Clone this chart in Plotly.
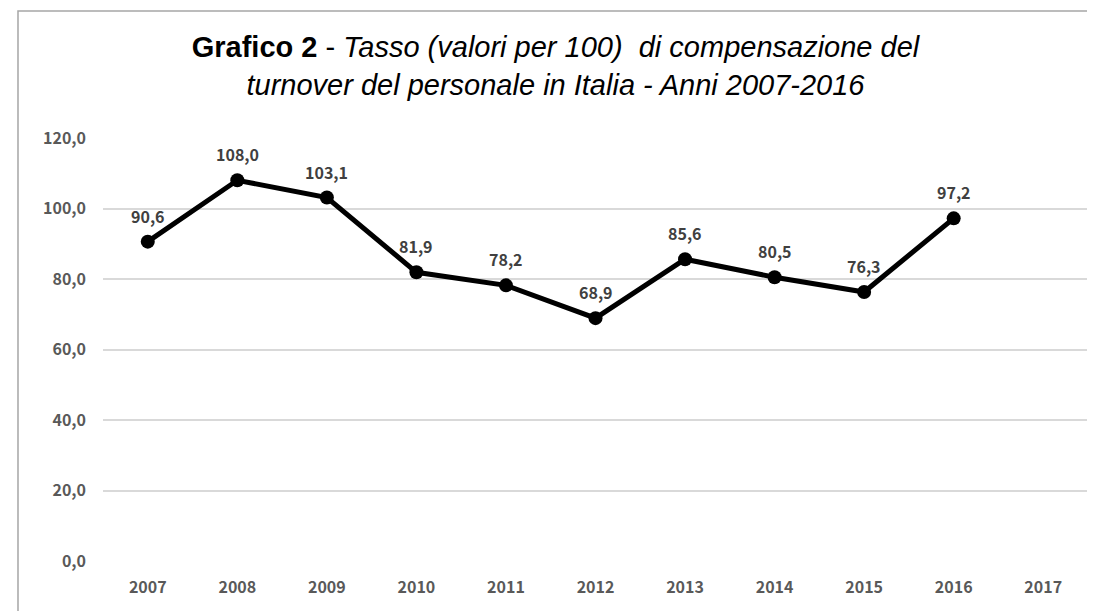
import plotly.graph_objects as go

years = ["2007", "2008", "2009", "2010", "2011", "2012", "2013", "2014", "2015", "2016", "2017"]
values = [90.6, 108.0, 103.1, 81.9, 78.2, 68.9, 85.6, 80.5, 76.3, 97.2, None]
y_ticks = [0, 20, 40, 60, 80, 100, 120]
y_tick_labels = ["0,0", "20,0", "40,0", "60,0", "80,0", "100,0", "120,0"]

xpos = list(range(len(years)))
FONT = "Noto Sans CJK JP, Noto Sans, sans-serif"

fig = go.Figure()
fig.add_trace(go.Scatter(
    x=xpos, y=values, mode="lines+markers",
    line=dict(color="black", width=5),
    marker=dict(color="black", size=14),
    hoverinfo="y", showlegend=False,
))

for x, v in zip(xpos, values):
    if v is None:
        continue
    fig.add_annotation(
        x=x, y=v, text=f"{v:.1f}".replace(".", ","),
        showarrow=False, yshift=26,
        font=dict(family=FONT, size=16, color="#404040", weight="bold"),
    )

fig.update_layout(
    width=1095, height=611,
    paper_bgcolor="white", plot_bgcolor="white",
    margin=dict(l=95, r=15, t=129.5, b=57.5),
    title=dict(
        text="<b>Grafico 2</b> - <i>Tasso (valori per 100)  di compensazione del</i><br><i>turnover del personale in Italia - Anni 2007-2016</i>",
        font=dict(family="Liberation Sans, Arial, sans-serif", size=29, color="black"),
        x=0.5, xanchor="center", xref="container",
        y=1 - 49 / 611, yanchor="top", yref="container",
    ),
    xaxis=dict(
        range=[-0.5, len(years) - 0.5],
        tickvals=xpos, ticktext=years,
        showgrid=False, zeroline=False, showline=False, ticks="",
        tickfont=dict(family=FONT, size=16, color="#595959", weight="bold"),
        ticklabelstandoff=15,
        fixedrange=True,
    ),
    yaxis=dict(
        range=[0, 120], tickvals=y_ticks, ticktext=y_tick_labels,
        showgrid=True, gridcolor="#d9d9d9", gridwidth=1.5,
        zeroline=False, showline=False, ticks="",
        tickfont=dict(family=FONT, size=16, color="#595959", weight="bold"),
        ticklabelstandoff=16,
        fixedrange=True,
    ),
    shapes=[dict(
        type="rect", xref="paper", yref="paper",
        x0=-0.0863, x1=1.2, y0=-0.3, y1=1.3,
        line=dict(color="#a6a6a6", width=1.5), fillcolor="rgba(0,0,0,0)",
        layer="below",
    )],
)

fig.write_html("out.html")
